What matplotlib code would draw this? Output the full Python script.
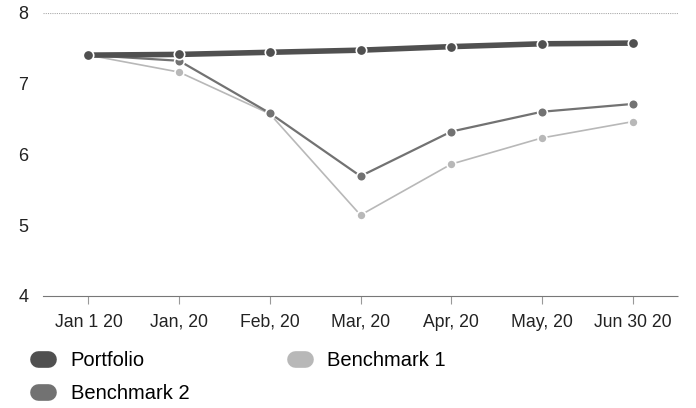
import matplotlib.pyplot as plt
from matplotlib.lines import Line2D

plt.rcParams['font.family'] = ['Liberation Sans', 'DejaVu Sans']

labels = ['Jan 1 20', 'Jan, 20', 'Feb, 20', 'Mar, 20', 'Apr, 20', 'May, 20', 'Jun 30 20']
portfolio = [7.40, 7.41, 7.44, 7.47, 7.52, 7.56, 7.57]
benchmark2 = [7.40, 7.32, 6.58, 5.69, 6.32, 6.60, 6.71]
benchmark1 = [7.40, 7.16, 6.57, 5.14, 5.86, 6.23, 6.46]

c_port = '#505050'
c_b2 = '#727272'
c_b1 = '#b8b8b8'

fig = plt.figure(figsize=(6.96, 4.08), dpi=100)
ax = fig.add_axes([0.062, 0.275, 0.912, 0.694])

x = list(range(len(labels)))
ax.plot(x, benchmark1, color=c_b1, lw=1.2, marker='o', ms=6.5, mfc=c_b1,
        mec='white', mew=1.2, zorder=3)
ax.plot(x, benchmark2, color=c_b2, lw=1.6, marker='o', ms=7, mfc=c_b2,
        mec='white', mew=1.2, zorder=4)
ax.plot(x, portfolio, color=c_port, lw=4, marker='o', ms=7.5, mfc=c_port,
        mec='white', mew=1.2, zorder=5)

ax.set_xlim(-0.5, 6.5)
ax.set_ylim(4, 8)
ax.set_yticks([4, 5, 6, 7, 8])
ax.set_xticks(x)
ax.set_xticklabels(labels)
ax.tick_params(axis='y', length=0, labelsize=13, pad=18, colors='#222222')
ax.tick_params(axis='x', length=6, width=0.8, color='#999999', labelsize=12.7,
               labelcolor='#222222', pad=7)
for s in ['top', 'right', 'left']:
    ax.spines[s].set_visible(False)
ax.spines['bottom'].set_linestyle((0, (1, 1)))
ax.spines['bottom'].set_color('#777777')
ax.axhline(8, color='#aaaaaa', lw=0.8, ls=(0, (1, 1)), zorder=1)
for lab in ax.get_yticklabels():
    lab.set_horizontalalignment('left')

handles = [
    Line2D([], [], color=c_port, lw=12, solid_capstyle='round'),
    Line2D([], [], color=c_b2, lw=12, solid_capstyle='round'),
    Line2D([], [], color=c_b1, lw=12, solid_capstyle='round'),
]
fig.legend(handles, ['Portfolio', 'Benchmark 2', 'Benchmark 1'], ncol=2,
           loc='upper left', bbox_to_anchor=(0.055, 0.14), frameon=False,
           fontsize=14.5, handlelength=0.5, handletextpad=1.1,
           columnspacing=5.25, labelspacing=0.7, borderpad=0, borderaxespad=0)

fig.savefig('out.png', dpi=100)
